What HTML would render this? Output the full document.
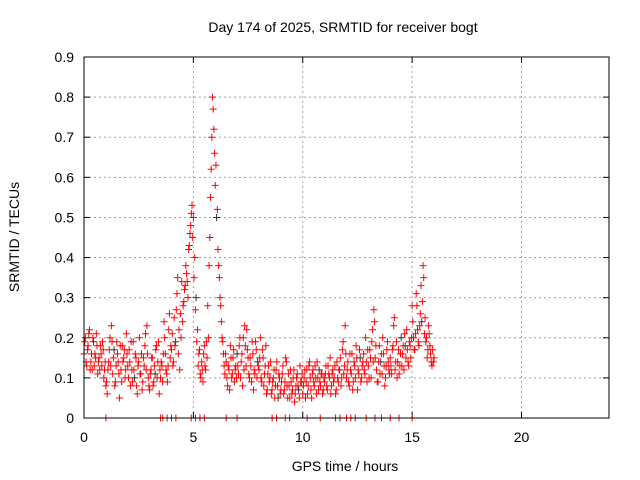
<!DOCTYPE html>
<html><head><meta charset="utf-8"><style>
body{margin:0;background:#fff;}
svg{display:block;font-family:"Liberation Sans",Arial,sans-serif;}
</style></head><body>
<svg id="chart" width="640" height="480">
<rect width="640" height="480" fill="#fff"/>
<g id="grid"></g>
<g id="axes"></g>
<g id="points"></g>
<rect x="84" y="57" width="525" height="361" fill="none" stroke="#000" stroke-width="1"/>
<text x="343" y="32" font-size="14" text-anchor="middle">Day 174 of 2025, SRMTID for receiver bogt</text>
<text x="345" y="471" font-size="14" text-anchor="middle">GPS time / hours</text>
<text transform="translate(19,237) rotate(-90)" font-size="14" text-anchor="middle">SRMTID / TECUs</text>
</svg>
<script>
const xTicks=[0,5,10,15,20];
const yTicks=[0,0.1,0.2,0.3,0.4,0.5,0.6,0.7,0.8,0.9];
const values=[
.16,.20,.13,.18,.22,.14,.12,.19,.16,.21,.11,.15,.18,.13,.17,.12,
.08,.06,.14,.20,.23,.11,.17,.09,.19,.14,.05,.12,.18,.15,.10,.21,
.13,.17,.08,.12,.19,.10,.15,.06,.14,.11,.16,.09,.13,.21,.23,.10,
.07,.12,.15,.09,.11,.18,.14,.06,.10,.13,.16,.20,.12,.09,.22,.15,
.17,.13,.25,.19,.31,.16,.12,.20,.24,.29,.33,.36,.30,.43,.48,.53,
.50,.40,.30,.22,.16,.11,.14,.09,.18,.12,.15,.20,.45,.62,.80,.72,
.58,.50,.42,.35,.28,.20,.16,.11,.14,.08,.12,.18,.10,.15,.09,.13,
.16,.11,.20,.14,.08,.12,.18,.22,.15,.10,.13,.19,.07,.11,.17,.14,
.12,.20,.09,.15,.11,.18,.07,.13,.10,.06,.09,.12,.08,.14,.05,.10,
.07,.11,.06,.09,.14,.05,.08,.12,.06,.10,.04,.08,.11,.07,.13,.09,
.06,.10,.05,.12,.08,.14,.07,.11,.09,.13,.06,.10,.12,.08,.11,.07,
.09,.13,.07,.11,.15,.08,.12,.10,.06,.14,.09,.12,.08,.17,.11,.23,
.10,.14,.08,.12,.16,.09,.13,.18,.07,.11,.15,.10,.14,.12,.20,.09,
.13,.17,.10,.22,.27,.15,.12,.09,.18,.14,.11,.16,.08,.13,.19,.12,
.15,.11,.18,.25,.14,.10,.17,.13,.20,.16,.12,.18,.22,.14,.19,.15,
.28,.20,.17,.31,.22,.18,.26,.24,.38,.21,.19,.15,.23,.18,.14,.17,
.15];
const values2=[
.19,.14,.17,.21,.12,.16,.20,.13,.15,.18,.14,.12,.16,.19,.10,.14,
.09,.12,.17,.13,.19,.15,.08,.13,.16,.11,.18,.09,.14,.17,.12,.16,
.10,.14,.19,.09,.12,.16,.08,.13,.20,.11,.07,.15,.18,.12,.16,.08,
.11,.15,.08,.13,.17,.10,.19,.12,.14,.09,.24,.16,.11,.13,.26,.18,
.21,.14,.18,.27,.35,.22,.26,.34,.28,.32,.38,.34,.42,.46,.51,.45,
.35,.27,.19,.13,.17,.10,.12,.16,.13,.19,.28,.38,.55,.70,.77,.66,
.63,.52,.38,.30,.24,.19,.13,.16,.10,.13,.07,.15,.11,.17,.12,.10,
.13,.18,.10,.16,.20,.23,.13,.17,.11,.15,.09,.16,.12,.19,.10,.13,
.15,.10,.17,.08,.13,.06,.11,.09,.14,.07,.10,.05,.12,.08,.11,.06,
.09,.13,.07,.15,.08,.11,.05,.09,.07,.12,.06,.10,.08,.05,.09,.11,
.08,.12,.09,.06,.13,.10,.05,.12,.08,.10,.14,.07,.09,.11,.06,.10,
.11,.08,.13,.10,.06,.11,.09,.13,.07,.10,.12,.15,.10,.19,.13,.16,
.12,.09,.16,.11,.07,.14,.10,.15,.12,.17,.09,.13,.16,.11,.14,.17,
.10,.15,.19,.14,.24,.18,.09,.14,.11,.16,.20,.13,.10,.17,.14,.11,
.13,.17,.23,.12,.19,.14,.11,.16,.13,.18,.21,.15,.17,.13,.18,.20,
.24,.17,.21,.28,.19,.23,.33,.29,.35,.25,.20,.17,.21,.16,.13,.14];
const times=values.map((v,i)=>i*0.0625);
const times2=values2.map((v,i)=>i*0.0625+0.03125);
const zeroTimes=[1.0,3.5,3.6,3.8,4.0,4.2,4.9,5.1,5.3,5.5,6.5,7.0,8.6,8.8,9.2,9.4,10.2,10.8,11.5,11.7,12.0,12.2,12.4,12.9,13.3,13.6,14.0,14.4,15.0];
const NS='http://www.w3.org/2000/svg';
const X0=84,X1=609,Y0=418,Y1=57;
function xs(t){return X0+(t/24)*(X1-X0);}
function ys(v){return Y0-(v/0.9)*(Y0-Y1);}
function mk(tag,attrs,parent){const e=document.createElementNS(NS,tag);for(const k in attrs)e.setAttribute(k,attrs[k]);parent.appendChild(e);return e;}
const grid=document.getElementById('grid'),axes=document.getElementById('axes'),pts=document.getElementById('points');
yTicks.forEach(v=>{
  const y=ys(v);
  if(v>0&&v<0.9){const g=mk('line',{x1:X0,x2:X1,y1:y,y2:y,stroke:'#a0a0a0','stroke-dasharray':'2,3'},grid);
  
  }
  mk('line',{x1:X0,x2:X0+6,y1:y,y2:y,stroke:'#000'},axes);
  mk('line',{x1:X1,x2:X1-6,y1:y,y2:y,stroke:'#000'},axes);
  const t=mk('text',{x:X0-10,y:y+5,'font-size':14,'text-anchor':'end'},axes);
  t.textContent=v===0?'0':v.toFixed(1);
  
  
});
xTicks.forEach(v=>{
  const x=xs(v);
  if(v>0){const g=mk('line',{x1:x,x2:x,y1:Y0,y2:Y1,stroke:'#a0a0a0','stroke-dasharray':'2,3'},grid);
  
  }
  mk('line',{x1:x,x2:x,y1:Y0,y2:Y0-6,stroke:'#000'},axes);
  mk('line',{x1:x,x2:x,y1:Y1,y2:Y1+6,stroke:'#000'},axes);
  const t=mk('text',{x:x,y:Y0+24,'font-size':14,'text-anchor':'middle'},axes);
  t.textContent=String(v);
  
  
});
function plus(x,y,c){
  const p=mk('path',{d:`M${x-3.5},${y}h7M${x},${y-3.5}v7`,stroke:c,'stroke-width':1,fill:'none'},pts);
  
  
}
times.forEach((t,i)=>plus(xs(t),ys(values[i]),i%15===7?'#333':'#ff0000'));
times2.forEach((t,i)=>plus(xs(t),ys(values2[i]),'#ff0000'));
zeroTimes.forEach(t=>plus(xs(t),ys(0),'#ff0000'));
</script>
</body></html>
